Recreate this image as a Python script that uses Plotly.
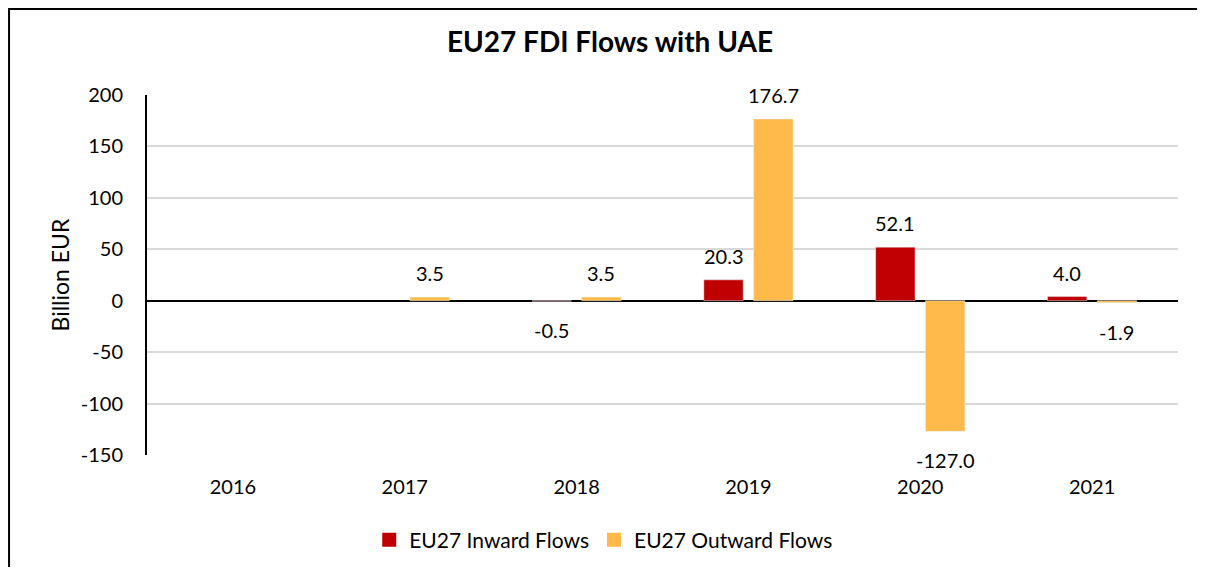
import plotly.graph_objects as go

years = ["2016", "2017", "2018", "2019", "2020", "2021"]
inward = [None, None, -0.5, 20.3, 52.1, 4.0]
outward = [None, 3.5, 3.5, 176.7, -127.0, -1.9]
y_ticks = [-150, -100, -50, 0, 50, 100, 150, 200]

RED = "#C00000"
GOLD = "#FFBA49"
FONT = "Lato, 'Open Sans', sans-serif"

# the page adds an 8px body margin, so the figure is 8px smaller on each side
W, H = 1197, 559

fig = go.Figure()
fig.add_trace(go.Bar(x=years, y=inward, name="EU27 Inward Flows", marker_color=RED, showlegend=False))
fig.add_trace(go.Bar(x=years, y=outward, name="EU27 Outward Flows", marker_color=GOLD, showlegend=False))
# legend entries with bigger square swatches
for name, col in (("EU27 Inward Flows", RED), ("EU27 Outward Flows", GOLD)):
    fig.add_trace(go.Scatter(x=[years[0]], y=[None], mode="markers", name=name,
                             marker=dict(symbol="square", size=14, color=col)))

# data labels, Excel style: above positive bars, below negative ones
# (x given as category index, since "2019" would be read as a number)
for series, shift in ((inward, -24.8), (outward, 24.8)):
    for i, v in enumerate(series):
        if v is None:
            continue
        fig.add_annotation(
            x=i, y=v, text=f"{v:.1f}", showarrow=False,
            xshift=shift, yshift=24 if v >= 0 else -29,
            yanchor="middle", font=dict(size=20, color="#000000"),
        )

# chart border (only left and top edges are visible)
fig.add_shape(
    type="rect", xref="paper", yref="paper",
    x0=-0.1338, x1=1.03, y0=-0.33, y1=1.2386,
    line=dict(color="#000000", width=2), fillcolor="rgba(0,0,0,0)", layer="above",
)

fig.update_layout(
    width=W, height=H,
    margin=dict(l=139, r=27, t=87, b=111.5),
    paper_bgcolor="white", plot_bgcolor="white",
    font=dict(family=FONT, size=20, color="#000000"),
    title=dict(text="<b>EU27 FDI Flows with UAE</b>", x=602 / W, xanchor="center",
               y=1 - 34 / H, yanchor="middle", yref="container",
               font=dict(size=28, color="#000000")),
    barmode="group", bargap=0.42, bargroupgap=0.21,
    showlegend=True,
    legend=dict(orientation="h", x=0.443, xanchor="center", xref="paper",
                y=1 - 532 / H, yanchor="middle", yref="container",
                font=dict(size=21), traceorder="normal"),
)
fig.update_xaxes(type="category", categoryorder="array", categoryarray=years, range=[-0.5, 5.5],
                 showgrid=False, showline=False, automargin=False,
                 ticks="outside", ticklen=14, tickcolor="rgba(0,0,0,0)")
fig.update_yaxes(
    range=[-150, 200], tickvals=y_ticks, ticktext=[str(t) for t in y_ticks],
    showgrid=True, gridcolor="#D9D9D9", gridwidth=1.5,
    zeroline=True, zerolinecolor="#000000", zerolinewidth=2,
    showline=True, linecolor="#000000", linewidth=2, automargin=False,
    ticks="outside", ticklen=18, tickcolor="rgba(0,0,0,0)",
    title=dict(text="Billion EUR", standoff=5, font=dict(size=23)),
)

fig.write_html("out.html")
